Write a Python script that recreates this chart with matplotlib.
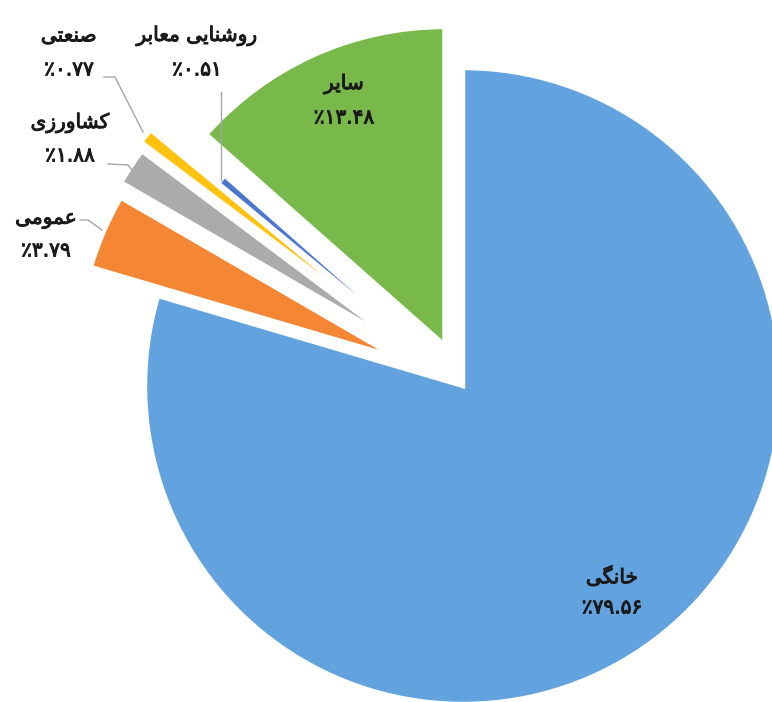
import matplotlib
matplotlib.use("Agg")
import matplotlib.pyplot as plt
import matplotlib.patheffects as pe

# data
categories = ["خانگی", "عمومی", "کشاورزی", "صنعتی", "روشنایی معابر", "سایر"]
values = [79.56, 3.79, 1.88, 0.77, 0.51, 13.48]
colors = ["#62A2DE", "#F58634", "#ABABAB", "#FFC20E", "#4B77CC", "#79B84B"]
explode = [0, 73, 80, 86, 0, 45]   # offsets in pixels

W, H = 772, 702

# simple persian shaping (matplotlib has no bidi / joining)
FORMS = {
    "ا": ("\uFE8D", "\uFE8E", None, None),
    "ب": ("\uFE8F", "\uFE90", "\uFE91", "\uFE92"),
    "ت": ("\uFE95", "\uFE96", "\uFE97", "\uFE98"),
    "خ": ("\uFEA5", "\uFEA6", "\uFEA7", "\uFEA8"),
    "ر": ("\uFEAD", "\uFEAE", None, None),
    "ز": ("\uFEAF", "\uFEB0", None, None),
    "س": ("\uFEB1", "\uFEB2", "\uFEB3", "\uFEB4"),
    "ش": ("\uFEB5", "\uFEB6", "\uFEB7", "\uFEB8"),
    "ص": ("\uFEB9", "\uFEBA", "\uFEBB", "\uFEBC"),
    "ع": ("\uFEC9", "\uFECA", "\uFECB", "\uFECC"),
    "ک": ("\uFB8E", "\uFB8F", "\uFB90", "\uFB91"),
    "گ": ("\uFB92", "\uFB93", "\uFB94", "\uFB95"),
    "م": ("\uFEE1", "\uFEE2", "\uFEE3", "\uFEE4"),
    "ن": ("\uFEE5", "\uFEE6", "\uFEE7", "\uFEE8"),
    "و": ("\uFEED", "\uFEEE", None, None),
    "ی": ("\uFBFC", "\uFBFD", "\uFBFE", "\uFBFF"),
}


def shape(text):
    out = []
    for i, ch in enumerate(text):
        if ch not in FORMS:
            out.append(ch)
            continue
        prev = text[i - 1] if i > 0 else ""
        nxt = text[i + 1] if i + 1 < len(text) else ""
        join_prev = prev in FORMS and FORMS[prev][2] is not None
        join_next = nxt in FORMS and FORMS[ch][2] is not None
        iso, fin, ini, med = FORMS[ch]
        if join_prev and join_next:
            out.append(med)
        elif join_next:
            out.append(ini)
        elif join_prev:
            out.append(fin)
        else:
            out.append(iso)
    return "".join(out)[::-1]


def fa_pct(v):
    digits = "%.2f" % v
    return "\u066A" + digits.translate(str.maketrans("0123456789", "۰۱۲۳۴۵۶۷۸۹"))


fig = plt.figure(figsize=(W / 100, H / 100), dpi=100)
ax = fig.add_axes([0, 0, 1, 1])

ax.pie(values, startangle=90, counterclock=False, radius=318,
       center=(463, H - 386), explode=explode, colors=colors,
       wedgeprops=dict(edgecolor="white", linewidth=3.2))
ax.set_xlim(0, W)
ax.set_ylim(0, H)
ax.set_aspect("equal")
ax.axis("off")

# label positions in pixels (x, y of name line, y of value line)
label_pos = [(612, 577, 608), (46, 219, 251), (70, 123, 156),
             (69, 36, 70), (197, 36, 70), (344, 84, 118)]

fs = 14.5
txt_fx = [pe.withStroke(linewidth=0.7, foreground="#1a1a1a")]
for name, v, (x, y1, y2) in zip(categories, values, label_pos):
    ax.text(x, H - y1, shape(name), ha="center", va="center", path_effects=txt_fx,
            fontsize=fs, color="#1a1a1a", family="DejaVu Sans")
    ax.text(x, H - y2, fa_pct(v), ha="center", va="center", path_effects=txt_fx,
            fontsize=fs, color="#1a1a1a", family="DejaVu Sans")

# leader lines
leaders = [
    [(80, 220), (88, 220), (102, 230)],
    [(108, 164), (128, 165), (132, 170)],
    [(104, 77), (115, 77), (143, 132)],
    [(221, 92), (221, 180)],
]
for pts in leaders:
    ax.plot([p[0] for p in pts], [H - p[1] for p in pts],
            color="#A6A6A6", lw=1)

fig.savefig("out.png", dpi=100)
